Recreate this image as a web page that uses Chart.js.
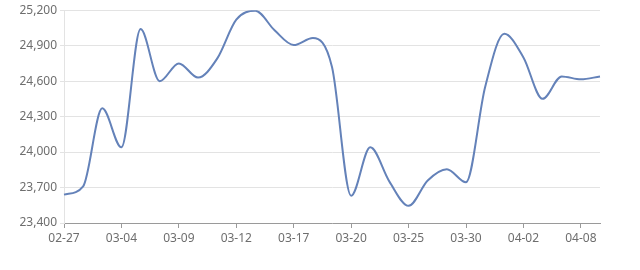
<!DOCTYPE html>
<html>
<head>
<meta charset="utf-8">
<script src="https://cdn.jsdelivr.net/npm/chart.js@4/dist/chart.umd.min.js"></script>
<style>
  body { margin: 0; background: #fff; }
</style>
</head>
<body>
<canvas id="grafica" width="640" height="270"></canvas>
<script>
// fechas (cada 3 puntos se muestra una etiqueta)
const fechas = [
  "02-27", "02-28", "03-01", "03-04", "03-05", "03-08", "03-09", "03-10",
  "03-11", "03-12", "03-15", "03-16", "03-17", "03-18", "03-19", "03-20",
  "03-22", "03-23", "03-25", "03-26", "03-29", "03-30", "03-31", "04-01",
  "04-02", "04-06", "04-07", "04-08", "04-09"
];

const precios = [
  23640, 23710, 24370, 24040, 25040, 24600, 24750, 24630,
  24790, 25120, 25195, 25030, 24905, 24965, 24720, 23630,
  24040, 23750, 23545, 23760, 23855, 23745, 24550, 25000,
  24800, 24450, 24640, 24615, 24640
];

const yMin = 23400;
const yMax = 25200;
const yPaso = 300;
const cadaEtiqueta = 3;

Chart.defaults.font.family = "'Noto Sans', 'DejaVu Sans', sans-serif";
Chart.defaults.font.size = 12;
Chart.defaults.color = "#6e6e6e";

let ctx = document.getElementById("grafica").getContext("2d");

let grafica = new Chart(ctx, {
  type: "line",
  data: {
    labels: fechas,
    datasets: [{
      label: "价格",
      data: precios,
      borderColor: "#6482b9",
      borderWidth: 2,
      pointRadius: 0,
      cubicInterpolationMode: "monotone",
      fill: false
    }]
  },
  options: {
    responsive: false,
    animation: false,
    layout: { padding: { top: 10, right: 40, left: 0, bottom: 0 } },
    plugins: {
      legend: { display: false },
      tooltip: { enabled: false }
    },
    scales: {
      x: {
        offset: false,
        border: { color: "#9a9a9a", width: 1 },
        grid: {
          drawOnChartArea: false,
          tickLength: 5,
          color: c => (c.index % cadaEtiqueta === 0 ? "#9a9a9a" : "rgba(0,0,0,0)")
        },
        ticks: {
          autoSkip: false,
          maxRotation: 0,
          padding: 3,
          color: "#6e6e6e",
          callback: function (v, i) {
            return i % cadaEtiqueta === 0 ? this.getLabelForValue(v) : "";
          }
        },
        afterFit: s => { s.height = 47; }
      },
      y: {
        min: yMin,
        max: yMax,
        border: { color: "#e3e3e3", width: 1 },
        grid: { color: "#e3e3e3", tickLength: 4 },
        ticks: {
          stepSize: yPaso,
          padding: 3,
          color: "#6e6e6e",
          callback: v => v.toLocaleString("en-US")
        },
        afterFit: s => { s.width = 64; }
      }
    }
  }
});
</script>
</body>
</html>
